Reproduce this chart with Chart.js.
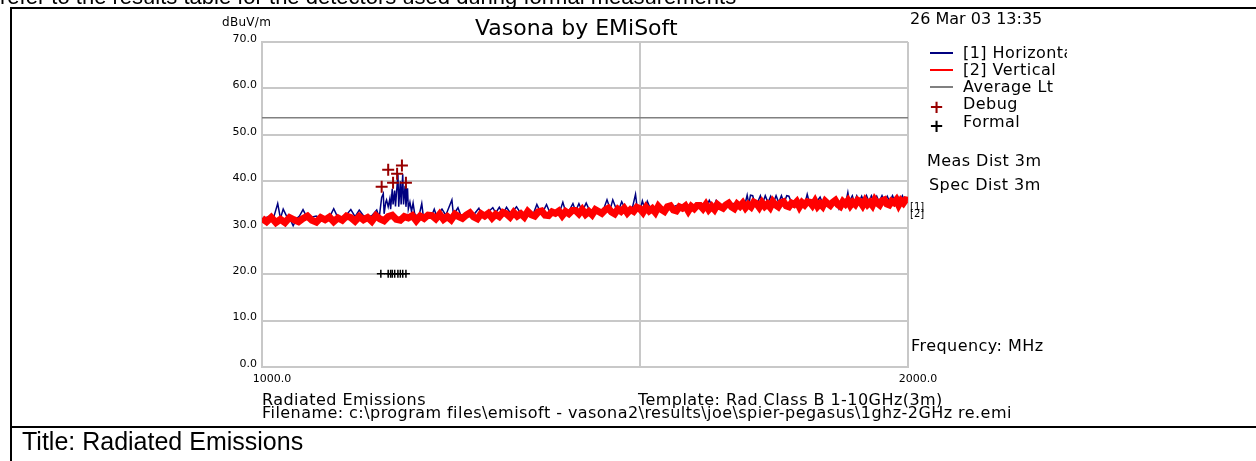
<!DOCTYPE html>
<html>
<head>
<meta charset="utf-8">
<script src="https://cdn.jsdelivr.net/npm/chart.js@4/dist/chart.umd.min.js"></script>
<style>
  html, body { margin: 0; padding: 0; background: #fff; }
  #page { position: relative; width: 1256px; height: 461px; overflow: hidden; font-family: "DejaVu Sans", sans-serif; color: #000; }
  #page canvas { position: absolute; left: 0; top: 0; }
  .t { position: absolute; white-space: nowrap; line-height: 16px; font-size: 16px; letter-spacing: 0.45px; }
  .doc { font-family: "Liberation Sans", Arial, sans-serif; letter-spacing: 0; }
  .rule { position: absolute; background: #000; }
  .key { position: absolute; height: 2px; width: 23px; }
</style>
</head>
<body>
<div id="page">
  <canvas id="emiChart" width="1256" height="461"></canvas>

  <div class="t doc" style="left:0; top:-14px; font-size:22px; line-height:22px;">refer to the results table for the detectors used during formal measurements</div>
  <div class="rule" style="left:10px; top:7px; width:1246px; height:2px;"></div>
  <div class="rule" style="left:10px; top:7px; width:2px; height:454px;"></div>
  <div class="rule" style="left:10px; top:426px; width:1246px; height:2px;"></div>

  <div class="t" style="left:222px; top:14px; font-size:12px; letter-spacing:0.3px;">dBuV/m</div>
  <div class="t" style="left:475px; top:17px; font-size:22px; line-height:22px; letter-spacing:0;">Vasona by EMiSoft</div>
  <div class="t" style="left:910px; top:11px; letter-spacing:0;">26 Mar 03 13:35</div>

  <div class="key" style="left:930px; top:52px; background:#000080;"></div>
  <div class="key" style="left:930px; top:69px; background:#ff0000;"></div>
  <div class="key" style="left:930px; top:86px; background:#808080;"></div>
  <div class="t" style="left:929px; top:99px; color:#990000; font-size:18px; font-weight:bold;">+</div>
  <div class="t" style="left:929px; top:118px; font-size:18px; font-weight:bold;">+</div>
  <div style="position:absolute; left:963px; top:45px; width:104px; overflow:hidden;">
    <div class="t" style="position:relative;">[1] Horizontal</div>
    <div class="t" style="position:relative; margin-top:1px;">[2] Vertical</div>
    <div class="t" style="position:relative; margin-top:1px;">Average Lt</div>
    <div class="t" style="position:relative; margin-top:1px;">Debug</div>
    <div class="t" style="position:relative; margin-top:2px;">Formal</div>
  </div>

  <div class="t" style="left:927px; top:153px;">Meas Dist 3m</div>
  <div class="t" style="left:929px; top:177px;">Spec Dist 3m</div>
  <div class="t" style="left:910px; top:202px; font-size:10px; line-height:10px; letter-spacing:0;">[1]</div>
  <div class="t" style="left:910px; top:209px; font-size:10px; line-height:10px; letter-spacing:0;">[2]</div>
  <div class="t" style="left:911px; top:338px;">Frequency: MHz</div>

  <div class="t" style="left:262px; top:392px;">Radiated Emissions</div>
  <div class="t" style="left:638px; top:392px;">Template: Rad Class B 1-10GHz(3m)</div>
  <div class="t" style="left:262px; top:405px;">Filename: c:\program files\emisoft - vasona2\results\joe\spier-pegasus\1ghz-2GHz re.emi</div>

  <div class="t doc" style="left:22px; top:429px; font-size:25px; line-height:24px;">Title: Radiated Emissions</div>
</div>

<script>
// [2] Vertical trace, MHz / dBuV/m
const freqV = [1000, 1005, 1010, 1015, 1020, 1025, 1030, 1035, 1040, 1045,
  1050, 1055, 1060, 1065, 1070, 1075, 1080, 1085, 1090, 1095,
  1100, 1105, 1110, 1115, 1120, 1125, 1130, 1135, 1140, 1145,
  1150, 1155, 1160, 1165, 1170, 1175, 1180, 1185, 1190, 1195,
  1200, 1205, 1210, 1215, 1220, 1225, 1230, 1235, 1240, 1245,
  1250, 1255, 1260, 1265, 1270, 1275, 1280, 1285, 1290, 1295,
  1300, 1305, 1310, 1315, 1320, 1325, 1330, 1335, 1340, 1345,
  1350, 1355, 1360, 1365, 1370, 1375, 1380, 1385, 1390, 1395,
  1400, 1405, 1410, 1415, 1420, 1425, 1430, 1435, 1440, 1445,
  1450, 1455, 1460, 1465, 1470, 1475, 1480, 1485, 1490, 1495,
  1500, 1505, 1510, 1515, 1520, 1525, 1530, 1535, 1540, 1545,
  1550, 1555, 1560, 1565, 1570, 1575, 1580, 1585, 1590, 1595,
  1600, 1605, 1610, 1615, 1620, 1625, 1630, 1635, 1640, 1645,
  1650, 1655, 1660, 1665, 1670, 1675, 1680, 1685, 1690, 1695,
  1700, 1705, 1710, 1715, 1720, 1725, 1730, 1735, 1740, 1745,
  1750, 1755, 1760, 1765, 1770, 1775, 1780, 1785, 1790, 1795,
  1800, 1805, 1810, 1815, 1820, 1825, 1830, 1835, 1840, 1845,
  1850, 1855, 1860, 1865, 1870, 1875, 1880, 1885, 1890, 1895,
  1900, 1905, 1910, 1915, 1920, 1925, 1930, 1935, 1940, 1945,
  1950, 1955, 1960, 1965, 1970, 1975, 1980, 1985, 1990, 1995, 2000];
const levelV = [32.0, 31.3, 32.2, 31.1, 31.8, 31.1, 32.2, 31.7, 31.3, 32.0,
  32.5, 31.6, 31.2, 32.2, 31.7, 32.3, 31.3, 32.1, 31.6, 32.5,
  32.2, 31.4, 32.4, 31.7, 32.2, 31.4, 32.6, 31.9, 31.5, 32.4,
  32.7, 31.8, 31.6, 32.4, 32.1, 32.6, 31.5, 32.5, 32.0, 32.7,
  32.6, 31.9, 32.9, 31.8, 32.4, 31.7, 32.9, 32.4, 32.0, 32.7,
  33.2, 32.3, 31.9, 33.0, 32.5, 33.1, 32.1, 32.9, 32.4, 33.3,
  33.0, 32.3, 33.3, 32.5, 33.0, 32.3, 33.5, 32.8, 32.5, 33.4,
  33.6, 32.7, 32.6, 33.4, 33.1, 33.6, 32.6, 33.5, 33.0, 33.7,
  33.7, 33.0, 33.9, 32.9, 33.5, 32.8, 33.9, 33.5, 33.1, 33.8,
  34.2, 33.4, 33.0, 34.0, 33.5, 34.2, 33.2, 33.9, 33.5, 34.4,
  34.1, 33.3, 34.4, 33.6, 34.1, 33.3, 34.6, 33.9, 33.5, 34.5,
  34.7, 33.8, 33.6, 34.5, 34.2, 34.7, 33.6, 34.6, 34.1, 34.8,
  34.8, 34.1, 35.0, 33.9, 34.6, 33.9, 35.0, 34.5, 34.2, 34.9,
  35.3, 34.5, 34.1, 35.1, 34.6, 35.3, 34.3, 35.0, 34.5, 35.5,
  35.2, 34.4, 35.4, 34.6, 35.1, 34.4, 35.6, 34.9, 34.5, 35.4,
  35.6, 34.7, 34.5, 35.3, 35.0, 35.6, 34.5, 35.4, 34.9, 35.6,
  35.5, 34.8, 35.7, 34.6, 35.2, 34.6, 35.7, 35.2, 34.8, 35.5,
  35.9, 35.0, 34.6, 35.6, 35.1, 35.8, 34.8, 35.5, 35.0, 35.9,
  35.6, 34.8, 35.8, 35.0, 35.5, 34.8, 36.0, 35.3, 34.9, 35.8,
  36.0, 35.1, 34.9, 35.7, 35.4, 36.0, 34.9, 35.8, 35.3, 36.0, 35.9];

// [1] Horizontal trace
const freqH = [1000, 1006, 1012, 1017, 1020, 1023, 1027, 1030, 1034, 1038,
  1041, 1045, 1049, 1053, 1060, 1066, 1072, 1076, 1080, 1084,
  1088, 1094, 1100, 1105, 1110, 1115, 1120, 1125, 1131, 1134,
  1137, 1139, 1140, 1142, 1143, 1145, 1147, 1148, 1150, 1151,
  1153, 1154, 1157, 1158, 1160, 1161, 1163, 1164, 1166, 1167,
  1169, 1170, 1172, 1174, 1176, 1178, 1181, 1184, 1187, 1189,
  1195, 1199, 1203, 1206, 1213, 1218, 1226, 1228, 1234, 1238,
  1245, 1250, 1256, 1262, 1265, 1270, 1281, 1285, 1290, 1295,
  1300, 1306, 1314, 1320, 1330, 1338, 1343, 1348, 1352, 1357,
  1362, 1370, 1376, 1381, 1385, 1390, 1396, 1400, 1405, 1410,
  1416, 1421, 1426, 1432, 1438, 1443, 1448, 1453, 1457, 1462,
  1466, 1471, 1476, 1482, 1488, 1493, 1496, 1500, 1504, 1508,
  1512, 1516, 1520, 1526, 1532, 1538, 1545, 1552, 1560, 1568,
  1575, 1582, 1590, 1598, 1606, 1611, 1616, 1620, 1624, 1628,
  1634, 1642, 1650, 1658, 1666, 1674, 1679, 1683, 1686, 1689,
  1693, 1697, 1702, 1707, 1711, 1716, 1721, 1726, 1731, 1736,
  1741, 1746, 1751, 1756, 1760, 1765, 1772, 1779, 1786, 1791,
  1795, 1799, 1806, 1812, 1820, 1824, 1831, 1838, 1845, 1852,
  1857, 1861, 1866, 1871, 1875, 1878, 1884, 1888, 1893, 1898,
  1903, 1908, 1913, 1918, 1923, 1928, 1934, 1939, 1945, 1950,
  1956, 1961, 1967, 1972, 1978, 1983, 1988, 1993, 2000];
const levelH = [31.9, 32.3, 31.8, 35.2, 32.0, 34.0, 32.4, 32.1, 30.4, 32.0,
  32.5, 33.9, 32.4, 32.2, 32.5, 31.9, 32.4, 32.6, 34.1, 32.5,
  32.3, 32.6, 33.9, 32.4, 33.8, 32.6, 32.3, 32.6, 33.8, 32.2,
  36.5, 37.3, 33.0, 35.5, 36.0, 34.5, 36.2, 34.0, 38.4, 35.0,
  38.0, 34.6, 41.5, 34.5, 40.0, 35.0, 41.5, 35.0, 39.0, 34.5,
  38.5, 34.0, 35.5, 33.5, 35.3, 33.0, 32.5, 32.9, 35.2, 32.4,
  32.8, 32.3, 34.0, 32.5, 34.0, 32.7, 36.0, 32.8, 34.3, 32.6,
  32.9, 32.5, 33.0, 34.2, 33.0, 32.7, 34.3, 33.2, 34.4, 33.0,
  34.4, 33.0, 34.5, 33.1, 33.3, 33.0, 35.0, 33.4, 33.5, 35.0,
  33.2, 33.5, 33.3, 35.5, 33.5, 33.6, 35.2, 33.6, 35.2, 33.5,
  35.3, 33.8, 33.6, 34.0, 33.7, 34.1, 36.0, 34.0, 36.0, 34.2,
  33.7, 35.6, 34.2, 33.8, 34.3, 37.2, 33.9, 33.6, 35.8, 34.0,
  35.7, 34.4, 33.8, 34.2, 34.4, 33.9, 34.6, 34.3, 34.8, 34.5,
  34.8, 34.5, 34.9, 34.6, 35.0, 34.5, 35.9, 34.9, 34.6, 35.9,
  34.8, 35.1, 34.9, 35.2, 35.0, 35.3, 35.0, 37.0, 35.1, 37.0,
  36.9, 35.2, 35.5, 36.9, 35.2, 36.9, 35.4, 36.8, 35.3, 36.9,
  35.4, 36.9, 35.3, 36.9, 36.8, 35.4, 35.6, 35.3, 35.7, 35.4,
  37.2, 35.5, 35.7, 35.4, 36.6, 35.5, 35.8, 35.5, 35.8, 35.4,
  34.1, 35.6, 35.9, 35.5, 37.6, 35.6, 36.9, 35.5, 36.9, 35.6,
  36.8, 35.5, 36.9, 35.6, 36.9, 35.7, 36.8, 35.6, 36.9, 35.7,
  36.8, 35.6, 36.9, 35.7, 36.8, 35.6, 36.9, 35.7, 36.3];

// Average limit
const limitFreq = [1000, 2000];
const limitLevel = [53.7, 53.7];

// Debug and formal measurement points
const debugFreq = [1137, 1145, 1151, 1156, 1162, 1167];
const debugLevel = [38.8, 42.5, 39.7, 41.6, 43.4, 39.7];
const formalFreq = [1136, 1145, 1148, 1150, 1153, 1157, 1160, 1163, 1167];
const formalLevel = [20.1, 20.1, 20.1, 20.1, 20.1, 20.1, 20.1, 20.1, 20.1];

// Axes
const xTicks = [1000, 1500, 2000];
const xTickLabels = ['1000.0', '', '2000.0'];
const yTicks = [0, 10, 20, 30, 40, 50, 60, 70];

function pts(xs, ys) {
    return xs.map((x, i) => ({ x: x, y: ys[i] }));
}

const tickFont = { family: 'DejaVu Sans', size: 11 };
const gridGrey = '#c8c8c8';

new Chart(document.getElementById('emiChart'), {
    type: 'line',
    data: {
        datasets: [
            {
                label: 'Debug',
                data: pts(debugFreq, debugLevel),
                showLine: false,
                pointStyle: 'cross',
                pointRadius: 6,
                borderColor: '#990000',
                borderWidth: 2,
                order: 0
            },
            {
                label: 'Formal',
                data: pts(formalFreq, formalLevel),
                showLine: false,
                pointStyle: 'cross',
                pointRadius: 4,
                borderColor: '#000000',
                borderWidth: 1.5,
                order: 1
            },
            {
                label: '[2] Vertical',
                data: pts(freqV, levelV),
                borderColor: '#ff0000',
                borderWidth: 7,
                pointRadius: 0,
                order: 2
            },
            {
                label: '[1] Horizontal',
                data: pts(freqH, levelH),
                borderColor: '#000080',
                borderWidth: 1.5,
                pointRadius: 0,
                order: 3
            },
            {
                label: 'Average Lt',
                data: pts(limitFreq, limitLevel),
                borderColor: '#808080',
                borderWidth: 1.5,
                pointRadius: 0,
                order: 4
            }
        ]
    },
    options: {
        responsive: false,
        animation: false,
        layout: { padding: { left: 222, right: 348, top: 42, bottom: 74 } },
        plugins: { legend: { display: false }, tooltip: { enabled: false } },
        scales: {
            x: {
                type: 'logarithmic',
                min: 1000,
                max: 2000,
                afterBuildTicks: (scale) => { scale.ticks = xTicks.map(v => ({ value: v })); },
                afterFit: (scale) => { scale.height = 20; },
                grid: { color: gridGrey, lineWidth: 2, drawTicks: false },
                border: { color: gridGrey, width: 2 },
                ticks: {
                    autoSkip: false,
                    maxRotation: 0,
                    padding: 6,
                    labelOffset: 10,
                    color: '#000',
                    font: tickFont,
                    callback: (v) => xTickLabels[xTicks.indexOf(v)]
                }
            },
            y: {
                min: 0,
                max: 70,
                afterBuildTicks: (scale) => { scale.ticks = yTicks.map(v => ({ value: v })); },
                afterFit: (scale) => { scale.width = 40; },
                grid: { color: gridGrey, lineWidth: 2, drawTicks: false },
                border: { color: gridGrey, width: 2 },
                ticks: {
                    padding: 5,
                    labelOffset: -3,
                    color: '#000',
                    font: tickFont,
                    callback: (v) => v.toFixed(1)
                }
            }
        }
    }
});
</script>
</body>
</html>
